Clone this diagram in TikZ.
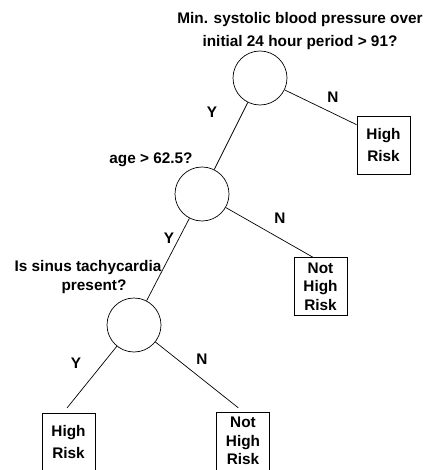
\documentclass[tikz,border=0pt]{standalone}
\usepackage{fontspec}
\setmainfont{Liberation Sans}
\usetikzlibrary{positioning}
\usetikzlibrary{calc}

\begin{document}
\begin{tikzpicture}[x=1bp, y=-1bp,
	line width=0.7pt,
	question/.style={circle, draw=black, minimum size=54bp, inner sep=0pt},
	leaf/.style={rectangle, draw=black, line width=0.9pt, minimum width=53bp, minimum height=58bp, inner sep=0pt, align=center, font=\fontsize{15.4}{22.5}\selectfont\bfseries},
	leafthree/.style={leaf, font=\fontsize{15.4}{18.5}\selectfont\bfseries},
	answer/.style={font=\fontsize{15.4}{18}\selectfont\bfseries},
	ask/.style={align=center, inner sep=0pt, font=\fontsize{15.4}{23.5}\selectfont\bfseries}]
	
	\useasboundingbox (0,0) rectangle (428,470);
	
	% decision nodes
	\node[question] (Q1) at (260,78) {};
	\node[question] (Q2) at (202,194) {};
	\node[question] (Q3) at (134,325) {};
	
	% outcome boxes
	\node[leaf] (R1) at (383.5,145) {High\\Risk};
	\node[leafthree] (R2) at (320.5,286.5) {Not\\High\\Risk};
	\node[leaf] (R3) at (68.5,442) {High\\Risk};
	\node[leafthree] (R4) at (243,441) {Not\\High\\Risk};
	
	% questions
	\node[ask] (T1) at (300,31) {Min. systolic blood pressure over\\initial 24 hour period > 91?};
	\node[ask] (T2) at (151,160) {age > 62.5?};
	\node[ask, font=\fontsize{15.4}{19}\selectfont\bfseries] (T3) at (88,277) {Is sinus tachycardia\\\hspace*{12bp}present?};
	
	% branches
	\draw (Q1) -- (Q2);
	\draw (Q1) -- (R1.143);
	\draw (Q2) -- (Q3);
	\draw (Q2) -- (R2.105);
	\draw[shorten >=6bp] (Q3) -- (R3.100);
	\draw[shorten >=6bp] (Q3) -- (R4.north);
	
	% branch labels
	\node[answer] (Y1) at ($(Q1)+(-48,34)$) {Y};
	\node[answer] (N1) at ($(Q1)+(73,19)$) {N};
	\node[answer] (Y2) at ($(Q2)+(-33,44)$) {Y};
	\node[answer] (N2) at ($(Q2)+(78,24)$) {N};
	\node[answer] (Y3) at ($(Q3)+(-58,38)$) {Y};
	\node[answer] (N3) at ($(Q3)+(68,34)$) {N};
\end{tikzpicture}
\end{document}
